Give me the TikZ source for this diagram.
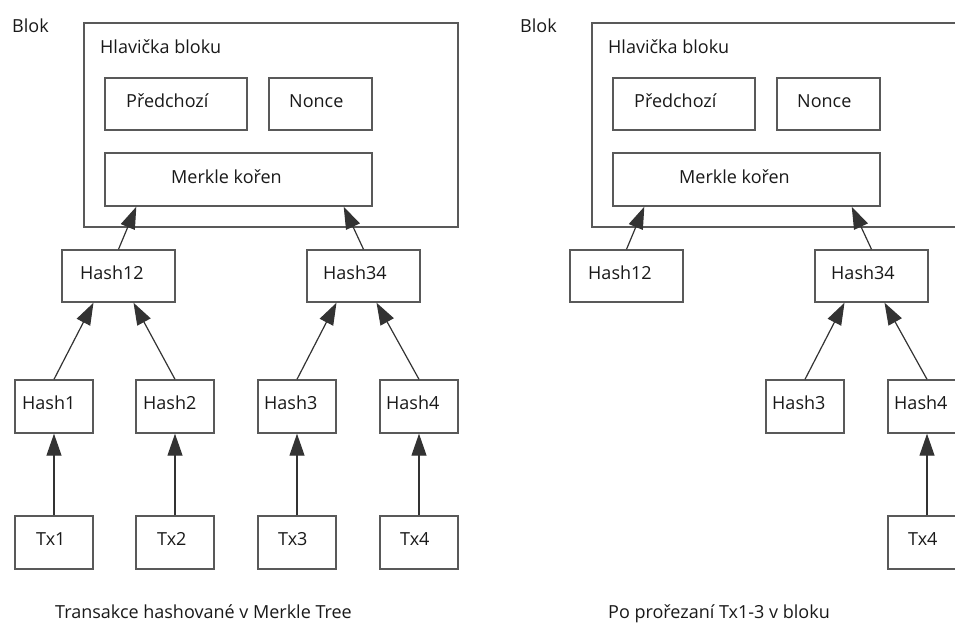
\documentclass[tikz,border=0pt]{standalone}
\usepackage{fontspec}
\setmainfont{Open Sans}
\usetikzlibrary{arrows.meta}
\tikzset{
  box/.style={draw=black!65, line width=1.4pt, rectangle, inner sep=0pt, fill=white},
  txt/.style={anchor=base west, inner sep=0pt, font=\fontsize{18}{21}\selectfont, text=black!90},
  conn/.style={draw=black!80, line width=1.2pt, -{Triangle[length=22pt,width=15pt]}},
}
\begin{document}
\begin{tikzpicture}[x=1pt,y=-1pt]
\useasboundingbox (0,0) rectangle (955,622);
\clip (0,0) rectangle (955,622);
% ---------- left panel ----------
\node[txt] (Lblok) at (12,32) {Blok};
\node[box, minimum width=374pt, minimum height=204pt] (Louter) at (271,125) {};
\node[txt] (Lhead) at (100,53) {Hlavička bloku};
\node[box, minimum width=142pt, minimum height=52pt] (Lprev) at (176,104) {};
\node[txt] (Lprevt) at (126,107) {Předchozí};
\node[box, minimum width=103pt, minimum height=52pt] (Lnonce) at (320.5,104) {};
\node[txt] (Lnoncet) at (289,107) {Nonce};
\node[box, minimum width=267pt, minimum height=53pt] (Lmerk) at (238.5,179.5) {};
\node[txt] (Lmerkt) at (171,183) {Merkle kořen};
\node[box, minimum width=113pt, minimum height=52pt] (Lh12) at (118.5,276) {};
\node[txt] (Lh12t) at (80,279) {Hash12};
\node[box, minimum width=113pt, minimum height=52pt] (Lh34) at (363.5,276) {};
\node[txt] (Lh34t) at (323,279) {Hash34};
\node[box, minimum width=78pt, minimum height=53pt] (Lh1) at (54,406.5) {};
\node[txt] (Lh1t) at (22,409) {Hash1};
\node[box, minimum width=78pt, minimum height=53pt] (Lh2) at (175,406.5) {};
\node[txt] (Lh2t) at (143,409) {Hash2};
\node[box, minimum width=78pt, minimum height=53pt] (Lh3) at (297,406.5) {};
\node[txt] (Lh3t) at (264,409) {Hash3};
\node[box, minimum width=78pt, minimum height=53pt] (Lh4) at (419,406.5) {};
\node[txt] (Lh4t) at (386,409) {Hash4};
\node[box, minimum width=78pt, minimum height=53pt] (Lt1) at (54,542.5) {};
\node[txt] (Lt1t) at (36,545) {Tx1};
\node[box, minimum width=78pt, minimum height=53pt] (Lt2) at (175,542.5) {};
\node[txt] (Lt2t) at (157,545) {Tx2};
\node[box, minimum width=78pt, minimum height=53pt] (Lt3) at (297,542.5) {};
\node[txt] (Lt3t) at (278,545) {Tx3};
\node[box, minimum width=78pt, minimum height=53pt] (Lt4) at (419,542.5) {};
\node[txt] (Lt4t) at (400,545) {Tx4};
\node[txt] (Lcap) at (55,618) {Transakce hashované v Merkle Tree};
\draw[conn] (Lh12.north) -- ([xshift=32pt]Lmerk.south west);
\draw[conn] (Lh34.north) -- ([xshift=-29pt]Lmerk.south east);
\draw[conn] (Lh1.north) -- ([xshift=-25pt]Lh12.south);
\draw[conn] (Lh2.north) -- ([xshift=15pt]Lh12.south);
\draw[conn] (Lh3.north) -- ([xshift=-27pt]Lh34.south);
\draw[conn] (Lh4.north) -- ([xshift=13pt]Lh34.south);
\draw[conn] (Lt1.north) -- (Lh1.south);
\draw[conn] (Lt2.north) -- (Lh2.south);
\draw[conn] (Lt3.north) -- (Lh3.south);
\draw[conn] (Lt4.north) -- (Lh4.south);
% ---------- right panel ----------
\begin{scope}[xshift=508pt]
\node[txt] (Rblok) at (12,32) {Blok};
\node[box, minimum width=374pt, minimum height=204pt] (Router) at (271,125) {};
\node[txt] (Rhead) at (100,53) {Hlavička bloku};
\node[box, minimum width=142pt, minimum height=52pt] (Rprev) at (176,104) {};
\node[txt] (Rprevt) at (126,107) {Předchozí};
\node[box, minimum width=103pt, minimum height=52pt] (Rnonce) at (320.5,104) {};
\node[txt] (Rnoncet) at (289,107) {Nonce};
\node[box, minimum width=267pt, minimum height=53pt] (Rmerk) at (238.5,179.5) {};
\node[txt] (Rmerkt) at (171,183) {Merkle kořen};
\node[box, minimum width=113pt, minimum height=52pt] (Rh12) at (118.5,276) {};
\node[txt] (Rh12t) at (80,279) {Hash12};
\node[box, minimum width=113pt, minimum height=52pt] (Rh34) at (363.5,276) {};
\node[txt] (Rh34t) at (323,279) {Hash34};
\node[box, minimum width=78pt, minimum height=53pt] (Rh3) at (297,406.5) {};
\node[txt] (Rh3t) at (264,409) {Hash3};
\node[box, minimum width=78pt, minimum height=53pt] (Rh4) at (419,406.5) {};
\node[txt] (Rh4t) at (386,409) {Hash4};
\node[box, minimum width=78pt, minimum height=53pt] (Rt4) at (419,542.5) {};
\node[txt] (Rt4t) at (400,545) {Tx4};
\node[txt] (Rcap) at (100,618) {Po prořezaní Tx1-3 v bloku};
\draw[conn] (Rh12.north) -- ([xshift=32pt]Rmerk.south west);
\draw[conn] (Rh34.north) -- ([xshift=-29pt]Rmerk.south east);
\draw[conn] (Rh3.north) -- ([xshift=-27pt]Rh34.south);
\draw[conn] (Rh4.north) -- ([xshift=13pt]Rh34.south);
\draw[conn] (Rt4.north) -- (Rh4.south);
\end{scope}
\end{tikzpicture}
\end{document}
